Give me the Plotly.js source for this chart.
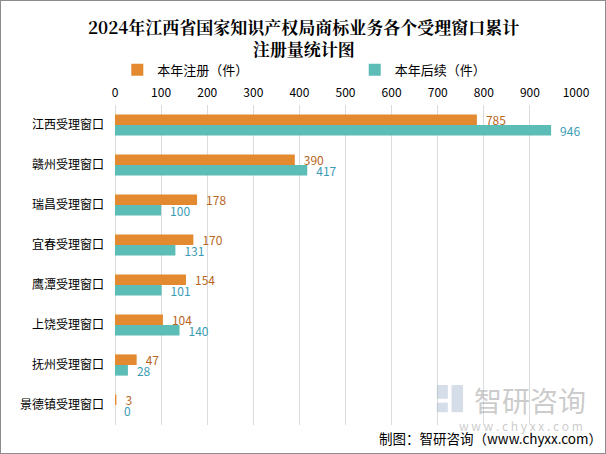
<!DOCTYPE html>
<html><head><meta charset="utf-8">
<script src="https://cdn.plot.ly/plotly-3.0.1.min.js"></script>
<style>html,body{margin:0;padding:0;background:#fff}#frame{position:absolute;left:0;top:0;width:604px;height:452px;border:1px solid #8c8c8c;pointer-events:none}</style>
</head><body>
<div id="chart" style="width:606px;height:454px"></div><div id="frame"></div>
<script>
const categories = ["江西受理窗口","赣州受理窗口","瑞昌受理窗口","宜春受理窗口","鹰潭受理窗口","上饶受理窗口","抚州受理窗口","景德镇受理窗口"];
const registered = [785,390,178,170,154,104,47,3];
const renewed = [946,417,100,131,101,140,28,0];
const seriesNames = ["本年注册（件）","本年后续（件）"];
const xTicks = [0,100,200,300,400,500,600,700,800,900,1000];

const font = "Microsoft YaHei, 'Noto Sans CJK SC', sans-serif";
const pad = v => "\u2002" + String(v);
const traces = [
  {type:"bar", orientation:"h", name:seriesNames[0], y:categories, x:registered,
   marker:{color:"#e38a30"}, text:registered.map(pad), textposition:"outside", constraintext:"none",
   textfont:{color:"#b8651e", size:12, family:font}, cliponaxis:false, legend:"legend"},
  {type:"bar", orientation:"h", name:seriesNames[1], y:categories, x:renewed,
   marker:{color:"#5cbcb6"}, text:renewed.map(pad), textposition:"outside", constraintext:"none",
   textfont:{color:"#3a9cb3", size:12, family:font}, cliponaxis:false, legend:"legend2"}
];
const legBase = {orientation:"h", xanchor:"left", y:1.11, yanchor:"middle",
    font:{size:13, color:"#000"}, itemwidth:30, bgcolor:"rgba(0,0,0,0)"};
const layout = {
  width:606, height:454, paper_bgcolor:"#fff", plot_bgcolor:"#fff",
  margin:{l:115, r:30, t:105, b:29},
  font:{family:font, size:12, color:"#000"},
  barmode:"group", bargap:0.47, bargroupgap:0,
  showlegend:true,
  legend:Object.assign({}, legBase, {x:0.005}),
  legend2:Object.assign({}, legBase, {x:0.52}),
  xaxis:{side:"top", range:[0,1000], tickvals:xTicks, ticktext:xTicks.map(String),
    showgrid:true, gridcolor:"#dcdcdc", gridwidth:1, zeroline:true, zerolinecolor:"#dcdcdc",
    showline:false, ticks:"", ticklabelstandoff:5, tickfont:{size:12, color:"#000"}, fixedrange:true},
  yaxis:{autorange:"reversed", showgrid:false, showline:false, ticks:"",
    ticklabelstandoff:10, tickfont:{size:12, color:"#000"}},
  shapes:[
    {type:"rect", xref:"paper", yref:"paper", x0:0.698, x1:0.722, y0:0.082, y1:0.125, line:{width:0}, fillcolor:"rgba(160,180,205,0.45)"},
    {type:"rect", xref:"paper", yref:"paper", x0:0.730, x1:0.755, y0:0.04, y1:0.125, line:{width:0}, fillcolor:"rgba(160,180,205,0.45)"},
    {type:"rect", xref:"paper", yref:"paper", x0:0.698, x1:0.722, y0:0.04, y1:0.07, line:{width:0}, fillcolor:"rgba(160,180,205,0.45)"}
  ],
  annotations:[
    {text:"<b>2024年江西省国家知识产权局商标业务各个受理窗口累计<br>注册量统计图</b>", xref:"paper", yref:"paper",
     x:0.408, y:1.21, xanchor:"center", yanchor:"middle", showarrow:false,
     font:{size:17, color:"#000", family:"'Noto Serif CJK SC', 'Noto Sans CJK SC', serif"}},
    {text:"制图：智研咨询（www.chyxx.com）", xref:"paper", yref:"paper", x:1.06, y:-0.041,
     xanchor:"right", yanchor:"middle", showarrow:false, font:{size:13.5, color:"#000"}},
    {text:"智研咨询", xref:"paper", yref:"paper", x:1.025, y:0.078, xanchor:"right", yanchor:"middle",
     showarrow:false, font:{size:28, color:"rgba(160,160,160,0.55)"}},
    {text:"w w w . c h y x x . c o m", xref:"paper", yref:"paper", x:1.02, y:0.0, xanchor:"right", yanchor:"middle",
     showarrow:false, font:{size:12, color:"rgba(160,160,160,0.55)"}}
  ]
};
Plotly.newPlot("chart", traces, layout, {displayModeBar:false, staticPlot:true});
</script>
</body></html>
